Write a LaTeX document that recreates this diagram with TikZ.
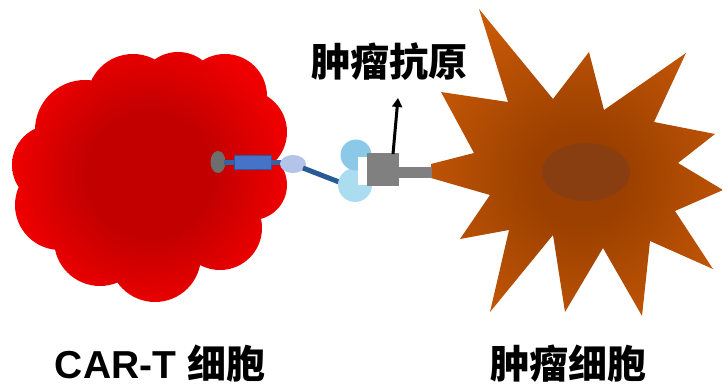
\documentclass[tikz,border=0pt]{standalone}
\usepackage{fontspec}
\setmainfont{Liberation Sans}
\newfontfamily\cjk{Noto Sans CJK SC}
\usetikzlibrary{arrows.meta,shapes.geometric}
\definecolor{cellred}{RGB}{238,0,0}
\definecolor{cellcore}{RGB}{195,0,0}
\definecolor{tumorout}{RGB}{198,88,6}
\definecolor{tumorin}{RGB}{155,64,0}
\definecolor{nucleus}{RGB}{135,62,22}
\definecolor{recgray}{RGB}{110,110,110}
\definecolor{cdblue}{RGB}{70,115,200}
\definecolor{cdedge}{RGB}{45,85,160}
\definecolor{stalk}{RGB}{55,100,160}
\definecolor{hinge}{RGB}{180,196,232}
\definecolor{linker}{RGB}{40,90,150}
\definecolor{scfvA}{RGB}{140,200,232}
\definecolor{scfvB}{RGB}{172,220,240}
\definecolor{antigen}{RGB}{128,128,128}
% radial fills: a solid core, a soft rim, then the outer colour
\pgfdeclareradialshading{tcellfill}{\pgfpoint{0bp}{0bp}}{%
  color(0bp)=(cellcore); color(8bp)=(cellcore); color(17bp)=(cellred); color(50bp)=(cellred)}
\pgfdeclareradialshading{tumorfill}{\pgfpoint{0bp}{0bp}}{%
  color(0bp)=(tumorin); color(5bp)=(tumorin); color(19bp)=(tumorout); color(50bp)=(tumorout)}
\tikzset{
  label text/.style={font=\fontsize{39}{44}\selectfont\bfseries, inner sep=0pt},
  pointer/.style={line width=3pt, -{Triangle[length=9pt,width=10pt]}},
}
\begin{document}
\begin{tikzpicture}[x=1pt,y=-1pt]
\useasboundingbox (0,0) rectangle (723,387);

% CAR-T cell: a lumpy cloud of overlapping circles with a darker centre
\begin{scope}
  \clip (150,175) ellipse (115 and 95)
        (85,130) circle (50) (133,100) circle (46) (178,92) circle (40)
        (225,96) circle (42) (245,132) circle (42) (252,185) circle (35)
        (220,228) circle (42) (155,256) circle (46) (100,240) circle (46)
        (60,205) circle (45) (52,165) circle (40);
  \shade[shading=tcellfill] (150,175) circle (200);
\end{scope}

% Tumour cell: a many-pointed star with a radial shading and a nucleus
\begin{scope}
  \clip (441,92) -- (508,102) -- (479,9) -- (553,99) -- (589,52) -- (604,110)
        -- (686,53) -- (654,122) -- (715,134) -- (678,163) -- (723,190)
        -- (675,211) -- (713,269) -- (650,241) -- (642,316) -- (603,248)
        -- (565,312) -- (553,235) -- (490,312) -- (509,230) -- (460,239)
        -- (490,195) -- (431,178) -- (431,164) -- (474,153) -- cycle;
  \shade[shading=tumorfill] (580,178) circle (230);
\end{scope}
\fill[nucleus, opacity=0.85] (586,172) ellipse (44 and 29);

% Chimeric antigen receptor spanning from the T cell
\node[fill=recgray, ellipse, minimum width=15pt, minimum height=22pt, inner sep=0pt] (tm) at (218,162) {};
\fill[stalk] (224,160.5) rectangle (236,165.5);
\node[fill=cdblue, draw=cdedge, line width=0.8pt, minimum width=37pt, minimum height=14pt, inner sep=0pt] (cd) at (253,162.5) {};
\fill[stalk] (271,160.5) rectangle (284,165.5);
\node[fill=hinge, ellipse, minimum width=26pt, minimum height=18pt, inner sep=0pt] (hg) at (293,164) {};
\coordinate (lk1) at (303,168);
\coordinate (lk2) at (339,182);
\draw[linker, line width=5pt] (lk1) -- (lk2);

% scFv binding domain
\fill[scfvB] (355,185) circle (17);
\fill[scfvA] (356,155) circle (15.5);
\fill[white] (358,157) rectangle (368,185);

% Tumour antigen on the tumour cell
\node[fill=antigen, minimum width=32pt, minimum height=33pt, inner sep=0pt] (ag) at (383,169.5) {};
\fill[antigen] (399,167) rectangle (432,178);

% Labels
\node[label text] (agl) at (389,62) {\cjk 肿瘤抗原};
\coordinate (arrtail) at (393,154);
\draw[pointer] (arrtail) -- (398,98);

\node[label text] (tlab) at (160,364) {CAR-T {\cjk 细胞}};
\node[label text] (clab) at (568,364) {\cjk 肿瘤细胞};
\end{tikzpicture}
\end{document}
